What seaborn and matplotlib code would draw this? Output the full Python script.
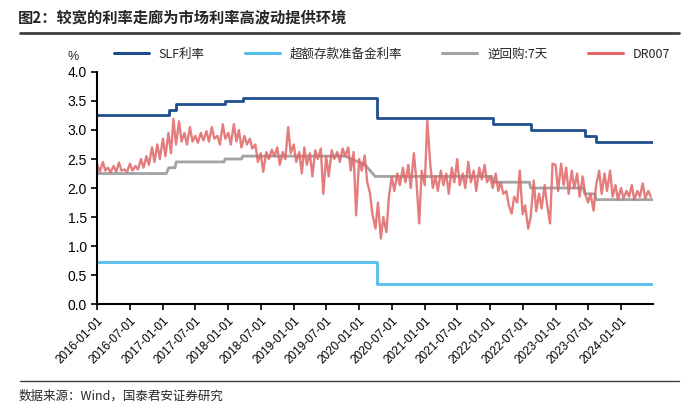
import pandas as pd
import matplotlib
matplotlib.use('Agg')
from matplotlib import pyplot as plt
from matplotlib.lines import Line2D
import seaborn as sns

# SLF (7天) 利率
slf_dates = ['2016-01-01', '2017-02-03', '2017-03-16', '2017-12-14', '2018-03-22',
             '2020-04-10', '2022-01-17', '2022-08-15', '2023-06-13', '2023-08-15',
             '2024-06-28']
slf_rate = [3.25, 3.35, 3.45, 3.50, 3.55, 3.20, 3.10, 3.00, 2.90, 2.80, 2.80]

# 超额存款准备金利率
ioer_dates = ['2016-01-01', '2020-04-07', '2024-06-28']
ioer_rate = [0.72, 0.35, 0.35]

# 逆回购:7天
repo_dates = ['2016-01-04', '2017-01-20', '2017-02-03', '2017-03-10', '2017-03-16',
              '2017-12-08', '2017-12-14', '2018-03-16', '2018-03-22', '2019-10-15',
              '2019-11-18', '2020-02-03', '2020-03-30', '2022-01-10', '2022-01-17',
              '2022-08-08', '2022-08-15', '2023-06-06', '2023-06-13', '2023-08-08',
              '2023-08-15', '2024-06-28']
repo_rate = [2.25, 2.25, 2.35, 2.35, 2.45, 2.45, 2.50, 2.50, 2.55, 2.55,
             2.50, 2.40, 2.20, 2.20, 2.10, 2.10, 2.00, 2.00, 1.90, 1.90,
             1.80, 1.80]

# DR007, 每月两个读数 (1日 / 15日)
dr007_2016 = [2.40, 2.28, 2.45, 2.30, 2.35, 2.27, 2.38, 2.28, 2.44, 2.30, 2.32, 2.28,
              2.42, 2.30, 2.38, 2.32, 2.50, 2.35, 2.55, 2.40, 2.70, 2.45, 2.75, 2.50]
dr007_2017 = [2.85, 2.55, 2.95, 2.60, 3.19, 2.75, 3.15, 2.80, 2.95, 2.75, 3.05, 2.80,
              2.90, 2.78, 2.95, 2.82, 2.98, 2.80, 3.05, 2.85, 2.90, 2.75, 3.10, 2.85]
dr007_2018 = [2.95, 2.75, 3.10, 2.80, 3.00, 2.70, 2.90, 2.75, 2.85, 2.68, 2.75, 2.45,
              2.60, 2.28, 2.62, 2.50, 2.66, 2.55, 2.70, 2.40, 2.62, 2.50, 3.05, 2.60]
dr007_2019 = [2.75, 2.45, 2.62, 2.25, 2.70, 2.40, 2.60, 2.20, 2.65, 2.50, 2.68, 1.90,
              2.55, 2.20, 2.65, 2.50, 2.62, 2.45, 2.68, 2.55, 2.70, 2.30, 2.62, 1.53]
dr007_2020 = [2.50, 2.30, 2.56, 2.10, 1.92, 1.55, 1.30, 1.75, 1.13, 1.50, 1.24, 1.85,
              2.20, 1.95, 2.25, 2.05, 2.35, 2.10, 2.40, 2.00, 2.60, 2.15, 1.39, 2.30]
dr007_2021 = [2.05, 3.16, 2.40, 2.00, 2.20, 1.95, 2.30, 2.05, 2.25, 1.90, 2.35, 2.10,
              2.50, 2.05, 2.25, 2.00, 2.45, 2.10, 2.30, 1.95, 2.35, 2.15, 2.40, 2.10]
dr007_2022 = [2.20, 2.00, 2.25, 1.95, 2.10, 1.90, 1.95, 1.70, 1.56, 1.85, 1.75, 2.30,
              1.55, 1.70, 1.30, 1.50, 2.13, 1.60, 1.90, 1.65, 2.05, 1.70, 1.39, 2.42]
dr007_2023 = [2.40, 1.95, 2.42, 2.05, 2.35, 1.90, 2.30, 2.00, 2.25, 1.85, 2.20, 1.90,
              1.75, 1.90, 1.61, 2.05, 2.30, 1.90, 2.25, 1.95, 2.30, 1.85, 2.05, 1.80]
dr007_2024 = [2.00, 1.82, 1.95, 1.85, 2.05, 1.80, 1.95, 1.85, 2.08, 1.82, 1.95, 1.85]

tick_labels = ['2016-01-01', '2016-07-01', '2017-01-01', '2017-07-01', '2018-01-01',
               '2018-07-01', '2019-01-01', '2019-07-01', '2020-01-01', '2020-07-01',
               '2021-01-01', '2021-07-01', '2022-01-01', '2022-07-01', '2023-01-01',
               '2023-07-01', '2024-01-01']

if __name__ == '__main__':
    dr007 = (dr007_2016 + dr007_2017 + dr007_2018 + dr007_2019 + dr007_2020
             + dr007_2021 + dr007_2022 + dr007_2023 + dr007_2024)
    df_dr = pd.DataFrame({'date': pd.date_range('2016-01-01', periods=len(dr007), freq='SMS'),
                          'rate': dr007})
    df_slf = pd.DataFrame({'date': pd.to_datetime(slf_dates), 'rate': slf_rate})
    df_ioer = pd.DataFrame({'date': pd.to_datetime(ioer_dates), 'rate': ioer_rate})
    df_repo = pd.DataFrame({'date': pd.to_datetime(repo_dates), 'rate': repo_rate})

    sns.set_style('ticks')
    plt.rcParams['font.family'] = ['Liberation Sans', 'Noto Sans CJK SC']
    cjk = ['Noto Sans CJK SC', 'DejaVu Sans']

    fig = plt.figure(figsize=(7, 4.16), dpi=100)
    ax = fig.add_axes([0.139, 0.269, 0.794, 0.558])

    sns.lineplot(data=df_slf, x='date', y='rate', color='#1F4E8C', lw=2,
                 drawstyle='steps-post', ax=ax, label='SLF利率')
    sns.lineplot(data=df_ioer, x='date', y='rate', color='#55BDEB', lw=2,
                 drawstyle='steps-post', ax=ax, label='超额存款准备金利率')
    sns.lineplot(data=df_repo, x='date', y='rate', color='#A3A3A3', lw=2,
                 ax=ax, label='逆回购:7天')
    sns.lineplot(data=df_dr, x='date', y='rate', color='#E06666', lw=1.7, alpha=0.85,
                 ax=ax, label='DR007')

    # 坐标轴
    ax.set_xlim(pd.Timestamp('2016-01-01'), pd.Timestamp('2024-06-28'))
    ax.set_ylim(0, 4)
    ax.set_yticks([i * 0.5 for i in range(9)])
    ax.set_yticklabels([f'{i * 0.5:.1f}' for i in range(9)], fontsize=10)
    ax.set_xticks(pd.to_datetime(tick_labels))
    ax.set_xticklabels(tick_labels, rotation=45, ha='right', rotation_mode='anchor',
                       fontsize=8.5)
    ax.set_xlabel('')
    ax.set_ylabel('')
    for s in ['top', 'right']:
        ax.spines[s].set_visible(False)
    for s in ['left', 'bottom']:
        ax.spines[s].set_linewidth(1.5)
        ax.spines[s].set_color('black')
    ax.tick_params(axis='both', direction='out', length=4, width=1.2, colors='black')

    leg = ax.legend(loc='lower center', bbox_to_anchor=(0.53, 1.0), ncol=4, frameon=False,
                    handlelength=2.8, columnspacing=3.2, prop={'family': cjk, 'size': 9})
    for line in leg.get_lines():
        line.set_linewidth(2.2)
        line.set_alpha(1)

    fig.text(0.104, 0.862, '%', fontsize=9, ha='center', va='center')

    # 标题与来源
    fig.text(0.026, 0.957, '图2：较宽的利率走廊为市场利率高波动提供环境', fontsize=11,
             fontweight='bold', family=cjk, va='center')
    fig.add_artist(Line2D([0.029, 0.97], [0.921, 0.921], transform=fig.transFigure,
                          color='#404040', lw=2))
    fig.add_artist(Line2D([0.029, 0.97], [0.085, 0.085], transform=fig.transFigure,
                          color='#404040', lw=1))
    fig.text(0.026, 0.048, '数据来源：Wind，国泰君安证券研究', fontsize=9, family=cjk,
             va='center')

    fig.savefig('out.png', dpi=100)
